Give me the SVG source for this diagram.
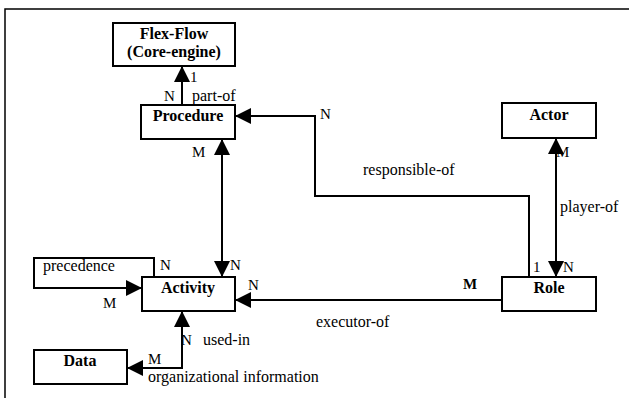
<svg xmlns="http://www.w3.org/2000/svg" width="629" height="398" viewBox="0 0 629 398">
<style>
.box{fill:#fff;stroke:#000;stroke-width:2}
.t{font-family:"Liberation Serif","Times New Roman",serif;font-size:16px;fill:#000}
.b{font-weight:bold;text-anchor:middle}
.lb{font-family:"Liberation Serif","Times New Roman",serif;font-size:15px;fill:#000}
.c{fill:none;stroke:#000;stroke-width:2}
</style>
<defs>
<marker id="arr" viewBox="0 0 16 16" refX="16" refY="8" markerWidth="16" markerHeight="16" markerUnits="userSpaceOnUse" orient="auto-start-reverse">
<path d="M0,0 L16,8 L0,16 z" fill="#000"/>
</marker>
</defs>
<rect width="629" height="398" fill="#fff"/>
<path d="M5,398 V9 H629" fill="none" stroke="#000" stroke-width="1.5"/>

<g id="connectors">
<path class="c" d="M182,105 V66" marker-end="url(#arr)"/>
<path class="c" d="M529,277 V196 H315 V116 H235" marker-end="url(#arr)"/>
<path class="c" d="M222,139 V277" marker-start="url(#arr)" marker-end="url(#arr)"/>
<path class="c" d="M154,277 V258 H34 V288 H142" marker-end="url(#arr)"/>
<path class="c" d="M502,300 H235" marker-end="url(#arr)"/>
<path class="c" d="M556,138 V277" marker-start="url(#arr)" marker-end="url(#arr)"/>
<path class="c" d="M182,311 V368 H127" marker-start="url(#arr)" marker-end="url(#arr)"/>
</g>

<g id="flexflow">
<rect class="box" x="113" y="23" width="122" height="43"/>
<text class="t b" x="174" y="39">Flex-Flow</text>
<text class="t b" x="174" y="57">(Core-engine)</text>
</g>
<g id="procedure">
<rect class="box" x="141" y="105" width="94" height="34"/>
<text class="t b" x="188" y="121">Procedure</text>
</g>
<g id="actor">
<rect class="box" x="502" y="103" width="94" height="35"/>
<text class="t b" x="549" y="120">Actor</text>
</g>
<g id="activity">
<rect class="box" x="142" y="277" width="93" height="34"/>
<text class="t b" x="188" y="293">Activity</text>
</g>
<g id="role">
<rect class="box" x="502" y="277" width="94" height="34"/>
<text class="t b" x="549" y="293">Role</text>
</g>
<g id="data">
<rect class="box" x="34" y="350" width="93" height="34"/>
<text class="t b" x="80" y="366">Data</text>
</g>

<g id="labels">
<text class="lb" x="190" y="82">1</text>
<text class="lb" x="164" y="101">N</text>
<text class="t" x="192" y="101">part-of</text>
<text class="lb" x="320" y="119">N</text>
<text class="t" x="363" y="175">responsible-of</text>
<text class="lb" x="192" y="157">M</text>
<text class="lb" x="556" y="157">M</text>
<text class="t" x="560" y="212">player-of</text>
<text class="lb" x="533" y="272">1</text>
<text class="lb" x="563" y="272">N</text>
<text class="lb" x="463" y="289" font-weight="bold">M</text>
<text class="lb" x="248" y="290">N</text>
<text class="t" x="316" y="327">executor-of</text>
<text class="t" x="43" y="271">precedence</text>
<text class="lb" x="160" y="270">N</text>
<text class="lb" x="230" y="270">N</text>
<text class="lb" x="103" y="308">M</text>
<text class="lb" x="181" y="345">N</text>
<text class="t" x="203" y="345">used-in</text>
<text class="lb" x="148" y="364">M</text>
<text class="t" x="148" y="382">organizational information</text>
</g>
</svg>
